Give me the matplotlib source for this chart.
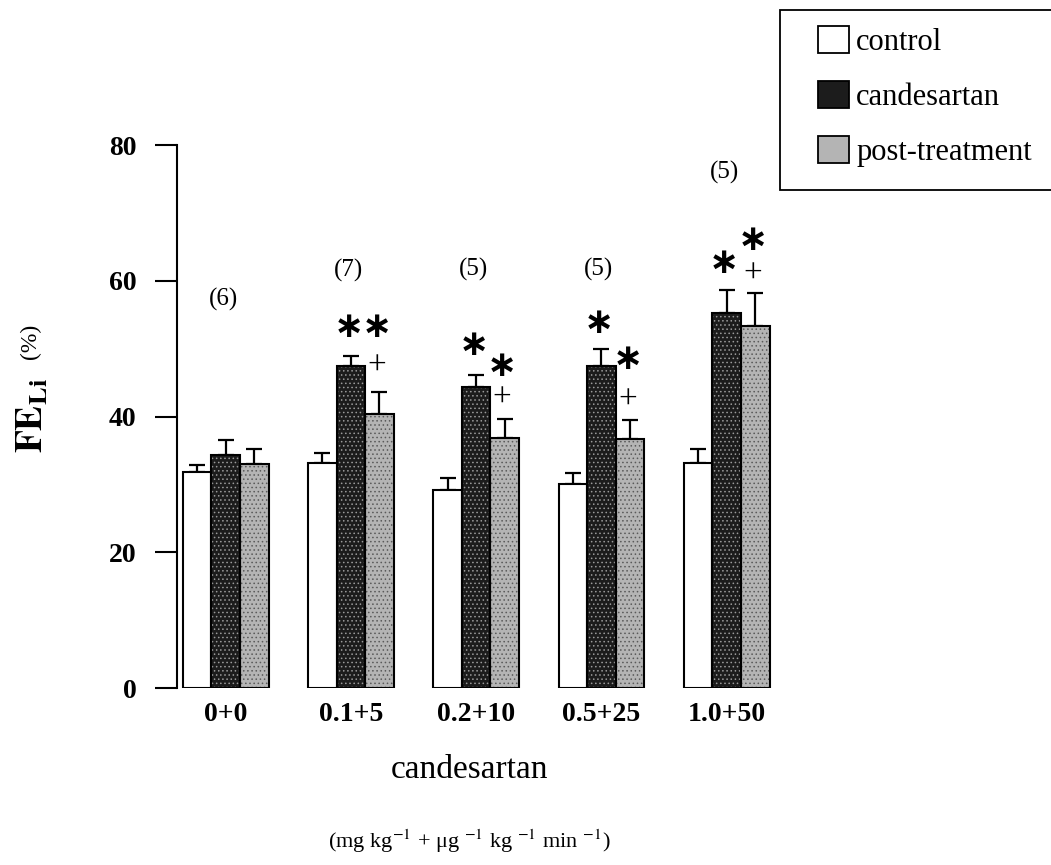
import numpy as np
import matplotlib.pyplot as plt
from matplotlib.patches import Rectangle, Patch

plt.rcParams['font.family'] = ['Liberation Serif', 'DejaVu Serif']
plt.rcParams['mathtext.fontset'] = 'stix'
plt.rcParams['hatch.linewidth'] = 0.6

doses = ['0+0', '0.1+5', '0.2+10', '0.5+25', '1.0+50']
n_rats = ['(6)', '(7)', '(5)', '(5)', '(5)']
n_pos = [57.2, 61.6, 61.7, 61.7, 76.0]
control = [31.8, 33.1, 29.2, 30.0, 33.1]
control_err = [1.0, 1.5, 1.7, 1.7, 2.2]
candesartan = [34.3, 47.4, 44.3, 47.4, 55.2]
candesartan_err = [2.2, 1.6, 1.8, 2.5, 3.4]
post = [33.0, 40.4, 36.8, 36.7, 53.3]
post_err = [2.2, 3.3, 2.8, 2.8, 4.9]
# significance marks: group, bar (1 = candesartan, 2 = post-treatment), symbol, height
mark_group = [1, 1, 1, 2, 2, 2, 3, 3, 3, 4, 4, 4]
mark_bar = [1, 2, 2, 1, 2, 2, 1, 2, 2, 1, 2, 2]
mark_sym = ['*', '*', '+', '*', '*', '+', '*', '*', '+', '*', '*', '+']
mark_y = [53.2, 53.2, 47.4, 50.5, 47.4, 42.7, 53.8, 48.5, 42.4, 62.6, 66.0, 61.0]

fig = plt.figure(figsize=(10.51, 8.65), dpi=100)
ax = fig.add_axes([0.168, 0.2046, 0.583, 0.6275])

x = np.arange(len(doses))
w = 0.228
series = [(control, control_err, 'white', None, 'control'),
          (candesartan, candesartan_err, '#1c1c1c', '#9a9a9a', 'candesartan'),
          (post, post_err, '#b4b4b4', '#5a5a5a', 'post-treatment')]
handles = []
for i, (vals, err, col, speck, lab) in enumerate(series):
    pos = x + (i - 1) * w
    if speck is not None:
        # stipple texture
        ax.bar(pos, vals, w, color=col, edgecolor=speck, linewidth=0, hatch='....', zorder=2)
    ax.bar(pos, vals, w, color=col if speck is None else 'none', edgecolor='black',
           linewidth=1.5, zorder=3)
    ax.errorbar(pos, vals, yerr=[np.zeros(len(vals)), err], fmt='none', ecolor='black',
                elinewidth=1.6, capsize=6, capthick=1.6, zorder=1)
    handles.append(Patch(facecolor=col, edgecolor='black', linewidth=1.3, label=lab))

for i in range(len(doses)):
    ax.text(x[i] - 0.02, n_pos[i], n_rats[i], ha='center', va='center', fontsize=18)

for g, s, sym, yy in zip(mark_group, mark_bar, mark_sym, mark_y):
    xx = x[g] + (s - 1) * w - 0.02
    if sym == '+':
        ax.text(xx, yy, '+', ha='center', va='center', fontsize=24)
    else:
        ax.text(xx, yy, '∗', ha='center', va='center', fontsize=26, fontweight='bold',
                family=['DejaVu Sans'])

ax.set_xlim(-0.392, 4.5)
ax.set_ylim(0, 80)
ax.set_yticks([0, 20, 40, 60, 80])
ax.set_xticks(x)
ax.set_xticklabels(doses, fontsize=20, fontweight='bold')
for t in ax.get_yticklabels():
    t.set_fontsize(20)
    t.set_fontweight('bold')
ax.tick_params(axis='x', length=0, pad=10)
ax.tick_params(axis='y', length=16, width=1.5, pad=13)
ax.spines['top'].set_visible(False)
ax.spines['right'].set_visible(False)
ax.spines['bottom'].set_visible(False)
ax.spines['left'].set_linewidth(1.5)

fig.text(0.031, 0.52, r'$\mathbf{FE_{Li}}$', rotation=90, ha='center', va='center', fontsize=27)
fig.text(0.029, 0.605, '(%)', rotation=90, ha='center', va='center', fontsize=17)

fig.text(0.447, 0.11, 'candesartan', ha='center', va='center', fontsize=24)
fig.text(0.447, 0.028, r'(mg kg$^{-1}$ + μg $^{-1}$ kg $^{-1}$ min $^{-1}$)', ha='center',
         va='center', fontsize=16)

# legend frame runs off the right edge as in the original
fig.patches.append(Rectangle((780 / 1051, 1 - 190 / 865), 300 / 1051, 180 / 865,
                             transform=fig.transFigure, facecolor='white',
                             edgecolor='black', linewidth=1.3))
leg = fig.legend(handles=handles, loc='upper left', bbox_to_anchor=(818 / 1051, 1 - 26 / 865),
                 fontsize=22, frameon=False, handlelength=1.0, handleheight=1.0,
                 labelspacing=0.78, borderpad=0, handletextpad=0.25, borderaxespad=0)

fig.savefig('out.png', dpi=100)
